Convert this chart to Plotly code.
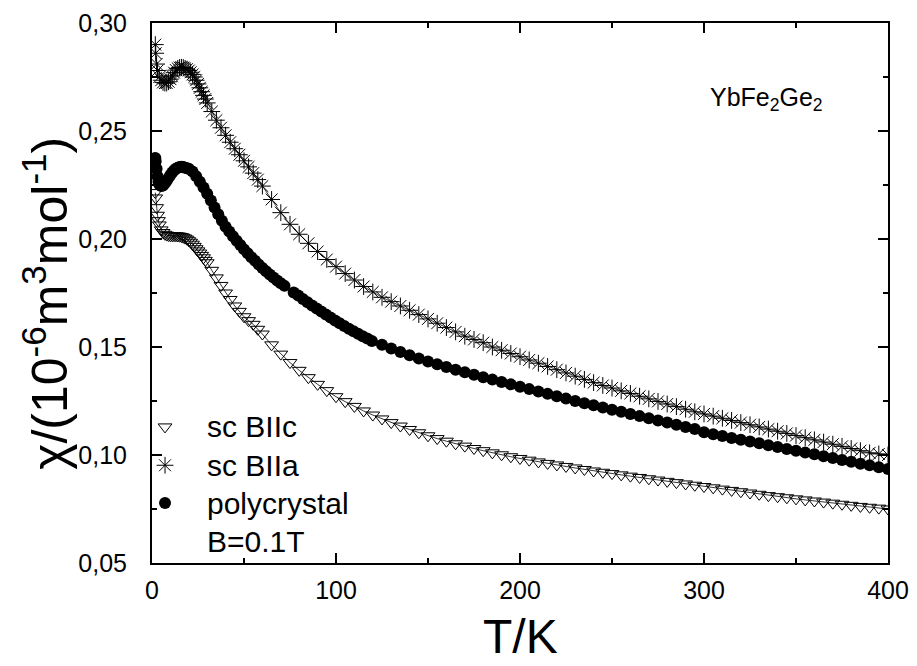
import plotly.graph_objects as go

# ---- data: sc B||a (asterisks) ----
T_a = [1.8, 2, 2.5, 3, 4, 5, 6, 7, 8, 9, 10, 11, 12, 13, 14, 15, 16, 17, 18, 19, 20,
       21, 22, 23, 24, 25, 26, 27, 28, 29, 30, 32.5, 35, 37.5, 40, 42.5, 45, 47.5, 50,
       52.5, 55, 57.5, 60, 65, 70, 75, 80, 85, 90, 95, 100, 105, 110, 115, 120, 125,
       130, 135, 140, 145, 150, 155, 160, 165, 170, 175, 180, 185, 190, 195, 200, 205,
       210, 215, 220, 225, 230, 235, 240, 245, 250, 255, 260, 265, 270, 275, 280, 285,
       290, 295, 300, 305, 310, 315, 320, 325, 330, 335, 340, 345, 350, 355, 360, 365,
       370, 375, 380, 385, 390, 395, 400]
chi_a = [0.290, 0.286, 0.281, 0.278, 0.275, 0.2735, 0.2725, 0.2722, 0.2722, 0.2728, 0.274,
         0.2755, 0.277, 0.2782, 0.279, 0.2794, 0.2795, 0.2794, 0.279, 0.2786, 0.278,
         0.2772, 0.2762, 0.275, 0.2735, 0.2718, 0.27, 0.2682, 0.2665, 0.2648, 0.263,
         0.259, 0.255, 0.2515, 0.248, 0.2448, 0.2418, 0.239, 0.2362, 0.2334, 0.2305,
         0.2275, 0.2245, 0.2183, 0.2122, 0.2068, 0.2022, 0.198, 0.1942, 0.1905, 0.1872,
         0.184, 0.181, 0.178, 0.1755, 0.173, 0.171, 0.169, 0.167, 0.165, 0.163, 0.161,
         0.159, 0.157, 0.155, 0.1535, 0.152, 0.150, 0.1485, 0.147, 0.1455, 0.144, 0.1425,
         0.141, 0.1395, 0.138, 0.1365, 0.135, 0.1335, 0.1322, 0.131, 0.1297, 0.1285,
         0.1272, 0.126, 0.1248, 0.1236, 0.1224, 0.1212, 0.120, 0.119, 0.118, 0.117,
         0.116, 0.115, 0.114, 0.113, 0.112, 0.111, 0.110, 0.109, 0.108, 0.107, 0.106,
         0.105, 0.104, 0.103, 0.102, 0.101, 0.1005, 0.100]

# ---- data: polycrystal (filled circles) ----
T_p = [1.8, 2, 2.5, 3, 3.5, 4, 5, 6, 7, 8, 9, 10, 11, 12, 13, 14, 15, 16, 17, 18, 19,
       20, 22, 24, 26, 28, 30, 32, 34, 36, 38, 40, 42, 44, 46, 48, 50, 52, 54, 56, 58,
       60, 62, 64, 66, 68, 70, 72, 77, 79.5, 82, 84.5, 87, 89.5, 92, 94.5, 97, 99.5,
       102, 104.5, 107, 109.5, 112, 114.5, 117, 119.5, 125, 130, 135, 140, 145, 150,
       155, 160, 165, 170, 175, 180, 185, 190, 195, 200, 205, 210, 215, 220, 225, 230,
       235, 240, 245, 250, 255, 260, 265, 270, 275, 280, 285, 290, 295, 300, 305, 310,
       315, 320, 325, 330, 335, 340, 345, 350, 355, 360, 365, 370, 375, 380, 385, 390,
       395, 400]
chi_p = [0.2375, 0.236, 0.2325, 0.229, 0.2265, 0.2252, 0.2245, 0.2248, 0.2258, 0.227,
         0.2283, 0.2296, 0.2308, 0.2318, 0.2325, 0.233, 0.2333, 0.2334, 0.2333, 0.233,
         0.2328, 0.2325, 0.2312, 0.229, 0.2265, 0.2238, 0.221, 0.2178, 0.2146, 0.2115,
         0.2085, 0.2057, 0.2035, 0.2013, 0.1992, 0.1972, 0.1952, 0.1934, 0.1916, 0.1899,
         0.1882, 0.1866, 0.1851, 0.1836, 0.1822, 0.1808, 0.1795, 0.1783, 0.1752, 0.1738,
         0.1722, 0.1707, 0.1692, 0.1678, 0.1664, 0.165, 0.1637, 0.1623, 0.161, 0.1597,
         0.1585, 0.1573, 0.1561, 0.155, 0.1539, 0.1528, 0.151, 0.1493, 0.1477, 0.1462,
         0.1447, 0.1433, 0.142, 0.1407, 0.1395, 0.1383, 0.1371, 0.136, 0.1349, 0.1338,
         0.1327, 0.1316, 0.1305, 0.1294, 0.1283, 0.1272, 0.1261, 0.125, 0.124, 0.123,
         0.122, 0.121, 0.120, 0.119, 0.118, 0.117, 0.116, 0.115, 0.114, 0.113, 0.112,
         0.1105, 0.1096, 0.1088, 0.1079, 0.1071, 0.1062, 0.1054, 0.1045, 0.1037, 0.1028,
         0.102, 0.1011, 0.1003, 0.0994, 0.0986, 0.0977, 0.0969, 0.096, 0.0952, 0.0943,
         0.0935]

# ---- data: sc B||c (open down-triangles) ----
T_c = [1.8, 2, 2.5, 3, 3.5, 4, 5, 6, 7, 8, 9, 10, 11, 12, 13, 14, 15, 16, 17, 18, 19,
       20, 21, 22, 23, 24, 25, 26, 27, 28, 29, 30, 32.5, 35, 37.5, 40, 42.5, 45, 47.5,
       50, 52.5, 55, 57.5, 60, 65, 70, 75, 80, 85, 90, 95, 100, 105, 110, 115, 120, 125,
       130, 135, 140, 145, 150, 155, 160, 165, 170, 175, 180, 185, 190, 195, 200, 205,
       210, 215, 220, 225, 230, 235, 240, 245, 250, 255, 260, 265, 270, 275, 280, 285,
       290, 295, 300, 305, 310, 315, 320, 325, 330, 335, 340, 345, 350, 355, 360, 365,
       370, 375, 380, 385, 390, 395, 400]
chi_c = [0.2215, 0.219, 0.2145, 0.211, 0.2085, 0.2065, 0.2042, 0.203, 0.2022, 0.2018,
         0.2016, 0.2015, 0.2015, 0.2015, 0.2015, 0.2014, 0.2013, 0.2011, 0.2008, 0.2004,
         0.1999, 0.1992, 0.1985, 0.1976, 0.1966, 0.1955, 0.1945, 0.1935, 0.1924, 0.1913,
         0.1901, 0.189, 0.1855, 0.182, 0.1785, 0.175, 0.172, 0.169, 0.1665, 0.164, 0.1622,
         0.1605, 0.1582, 0.156, 0.151, 0.1467, 0.1428, 0.1392, 0.1358, 0.1327, 0.1298,
         0.127, 0.1247, 0.1225, 0.1204, 0.1185, 0.1167, 0.115, 0.1134, 0.1118, 0.1103,
         0.1089, 0.1076, 0.1064, 0.1052, 0.1041, 0.103, 0.102, 0.101, 0.1001, 0.0992,
         0.0984, 0.0976, 0.0968, 0.0961, 0.0954, 0.0947, 0.094, 0.0933, 0.0926, 0.092,
         0.0914, 0.0908, 0.0902, 0.0896, 0.089, 0.0884, 0.0878, 0.0872, 0.0866, 0.086,
         0.0854, 0.0848, 0.0842, 0.0836, 0.083, 0.0824, 0.0818, 0.0812, 0.0807, 0.0802,
         0.0797, 0.0792, 0.0787, 0.0782, 0.0777, 0.0772, 0.0767, 0.0762, 0.0758, 0.0754,
         0.075]

labels = ["sc BIIc", "sc BIIa", "polycrystal"]
field_label = "B=0.1T"
x_ticks = [0, 100, 200, 300, 400]
y_ticks = [0.05, 0.10, 0.15, 0.20, 0.25, 0.30]
y_ticktext = ["0,05", "0,10", "0,15", "0,20", "0,25", "0,30"]

FONT = "Liberation Sans, Arial, sans-serif"

styles = [
    dict(symbol="triangle-down-open", size=12, color="black", line=dict(width=1, color="black")),
    dict(symbol="asterisk-open", size=14, color="black", line=dict(width=1, color="black")),
    dict(symbol="circle", size=12, color="black", line=dict(width=0)),
]

fig = go.Figure()
# thin connecting lines
fig.add_trace(go.Scatter(x=T_c, y=chi_c, mode="lines", showlegend=False, hoverinfo="skip",
                         line=dict(color="black", width=0.8)))
fig.add_trace(go.Scatter(x=T_a, y=chi_a, mode="lines", showlegend=False, hoverinfo="skip",
                         line=dict(color="black", width=0.8)))
# marker series
for Tx, cy, lab, st in [(T_c, chi_c, labels[0], styles[0]),
                        (T_a, chi_a, labels[1], styles[1]),
                        (T_p, chi_p, labels[2], styles[2])]:
    fig.add_trace(go.Scatter(x=Tx, y=cy, name=lab, mode="markers", marker=st,
                             showlegend=False))

# legend drawn in an overlay axis spanning the plot area
leg_x_sym = 0.0177
leg_x_txt = 0.072
leg_rows = [0.252, 0.181, 0.111, 0.039]
for i, lab in enumerate(labels):
    fig.add_trace(go.Scatter(x=[leg_x_sym], y=[leg_rows[i]], mode="markers",
                             marker=styles[i], xaxis="x2", yaxis="y2",
                             showlegend=False, hoverinfo="skip"))
    fig.add_annotation(x=leg_x_txt, y=leg_rows[i], xref="paper", yref="paper",
                       xanchor="left", yanchor="middle", text=lab, showarrow=False,
                       font=dict(family=FONT, size=30, color="black"))
fig.add_annotation(x=leg_x_txt, y=leg_rows[3], xref="paper", yref="paper",
                   xanchor="left", yanchor="middle", text=field_label, showarrow=False,
                   font=dict(family=FONT, size=30, color="black"))

axis_common = dict(
    showline=True, linecolor="black", linewidth=2, mirror="ticks",
    ticks="inside", ticklen=10, tickwidth=2, tickcolor="black",
    showgrid=False, zeroline=False, automargin=False,
    tickfont=dict(family=FONT, size=25, color="black"),
)

fig.update_layout(
    xaxis=dict(
        range=[0, 400], tickvals=x_ticks, ticktext=[str(v) for v in x_ticks],
        minor=dict(ticks="inside", ticklen=5, tickwidth=2, dtick=50, tick0=0, tickcolor="black"),
        ticklabelstandoff=4, **axis_common),
    yaxis=dict(
        range=[0.05, 0.30], tickvals=y_ticks, ticktext=y_ticktext,
        minor=dict(ticks="inside", ticklen=5, tickwidth=2, dtick=0.025, tick0=0.05, tickcolor="black"),
        ticklabelstandoff=18, **axis_common),
    xaxis2=dict(range=[0, 1], overlaying="x", visible=False, fixedrange=True),
    yaxis2=dict(range=[0, 1], overlaying="y", visible=False, fixedrange=True),
)

# axis titles as text annotations
fig.add_annotation(
    x=-0.144, y=0.48, xref="paper", yref="paper", xanchor="center", yanchor="middle",
    textangle=-90, showarrow=False,
    text="χ/(10<sup>-6</sup>m<sup>3</sup>mol<sup>-1</sup>)",
    font=dict(family=FONT, size=50, color="black"))
fig.add_annotation(
    x=0.5, y=-0.137, xref="paper", yref="paper", xanchor="center", yanchor="middle",
    showarrow=False, text="T/K",
    font=dict(family=FONT, size=48, color="black"))

fig.add_annotation(
    x=0.835, y=0.86, xref="paper", yref="paper", xanchor="center", yanchor="middle",
    text="YbFe<sub>2</sub>Ge<sub>2</sub>", showarrow=False,
    font=dict(family=FONT, size=25, color="black"))

fig.update_layout(
    width=917, height=666,
    margin=dict(l=152, r=29, t=23, b=103),
    paper_bgcolor="white", plot_bgcolor="white",
    showlegend=False,
)

fig.write_html("out.html")
